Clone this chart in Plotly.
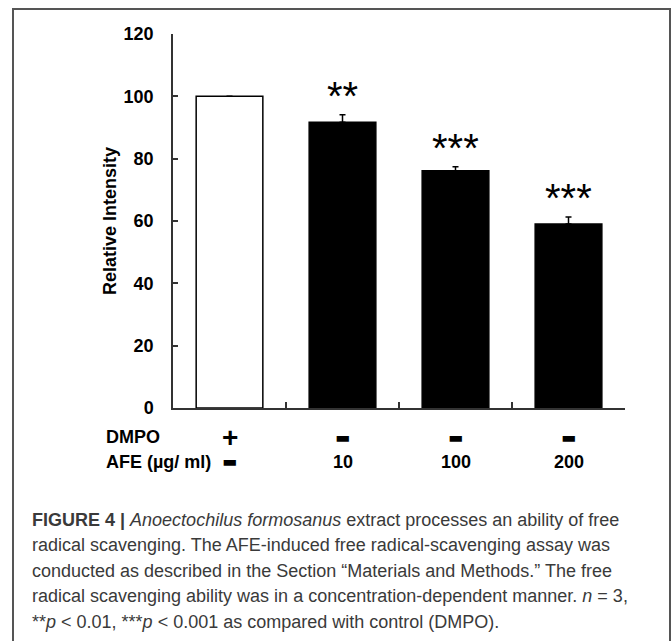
import plotly.graph_objects as go

# Free radical scavenging assay: relative ESR signal intensity
groups = ["DMPO", "AFE 10", "AFE 100", "AFE 200"]
relative_intensity = [100.0, 91.7, 76.1, 59.0]
sem = [0.0, 2.4, 1.3, 2.3]
significance = ["", "**", "***", "***"]
dmpo_row = ["+", "-", "-", "-"]
afe_row = ["-", "10", "100", "200"]
y_ticks = [0, 20, 40, 60, 80, 100, 120]

caption_lines = [
    "<b>FIGURE 4 |</b> <i>Anoectochilus formosanus</i> extract processes an ability of free",
    "radical scavenging. The AFE-induced free radical-scavenging assay was",
    "conducted as described in the Section \u201cMaterials and Methods.\u201d The free",
    "radical scavenging ability was in a concentration-dependent manner. <i>n</i> = 3,",
    "**<i>p</i> &lt; 0.01, ***<i>p</i> &lt; 0.001 as compared with control (DMPO).",
]

W, H = 672, 641
L, R, T, B = 173, 47, 34, 233
PW, PH = W - L - R, H - T - B


def px(x):
    return (x - L) / PW


def py(y):
    return (H - B - y) / PH


ARIAL = "Arial, Liberation Sans, sans-serif"
xs = list(range(len(groups)))

fig = go.Figure()
fig.add_trace(go.Bar(
    x=xs,
    y=relative_intensity,
    width=0.59,
    marker=dict(color=["white", "black", "black", "black"],
                line=dict(color="black", width=1.5)),
    error_y=dict(type="data", array=sem, arrayminus=[0] * len(sem),
                 symmetric=False, color="black", thickness=1.5, width=3),
    hoverinfo="skip",
))

# significance marks above the error bars
for x, m, e, s in zip(xs, relative_intensity, sem, significance):
    if s:
        fig.add_annotation(x=x, y=m + e, xref="x", yref="y", text=s,
                           showarrow=False, yanchor="bottom", yshift=-5,
                           font=dict(family=ARIAL, size=40, color="black"))


def sign_text(v):
    # plus/minus entries are drawn as heavy glyphs, numbers as bold text
    if v == "+":
        return "<span style='font-size:28px'><b>+</b></span>"
    if v == "-":
        return "<span style='font-family:DejaVu Sans;font-size:16px'>\u25ac</span>"
    return "<b>%s</b>" % v


# treatment table under the x axis
label_font = dict(family=ARIAL, size=18, color="black")
for row_y, row_name, row_vals in [(437, "<b>DMPO</b>", dmpo_row),
                                  (462, "<b>AFE (\u00b5g/ ml)</b>", afe_row)]:
    fig.add_annotation(x=px(104), y=py(row_y), xref="paper", yref="paper",
                       text=row_name, showarrow=False, xanchor="left",
                       yanchor="middle", font=label_font)
    for x, v in zip(xs, row_vals):
        fig.add_annotation(x=x, y=py(row_y), xref="x", yref="paper",
                           text=sign_text(v), showarrow=False,
                           xanchor="center", yanchor="middle", font=label_font)

# y axis title
fig.add_annotation(x=px(110), y=py(221), xref="paper", yref="paper",
                   text="<b>Relative Intensity</b>", textangle=-90,
                   showarrow=False, xanchor="center", yanchor="middle",
                   font=label_font)

# caption
for i, line in enumerate(caption_lines):
    fig.add_annotation(x=px(30), y=py(520 + i * 25.4), xref="paper", yref="paper",
                       text=line, showarrow=False, xanchor="left",
                       yanchor="middle", align="left",
                       font=dict(family="Liberation Sans, Arial, sans-serif",
                                 size=18, color="#3a3a3a"))

# frame around the figure panel
fig.add_shape(type="rect", xref="paper", yref="paper",
              x0=px(13), x1=px(670), y0=py(660), y1=py(9),
              line=dict(color="#555555", width=2), fillcolor="rgba(0,0,0,0)",
              layer="below")

fig.update_layout(
    width=W, height=H,
    margin=dict(l=L, r=R, t=T, b=B, pad=0),
    paper_bgcolor="white", plot_bgcolor="white",
    showlegend=False,
    xaxis=dict(range=[-0.5, 3.5], tickvals=[0.5, 1.5, 2.5, 3.5],
               ticks="inside", ticklen=6, tickwidth=1.5, tickcolor="#333333",
               showticklabels=False, showgrid=False, zeroline=False,
               showline=True, linecolor="#333333", linewidth=1.5, fixedrange=True),
    yaxis=dict(range=[0, 120], tickvals=y_ticks,
               ticktext=["<b>%d</b>" % v for v in y_ticks],
               ticks="inside", ticklen=5, tickwidth=1.5, tickcolor="#333333",
               ticklabelstandoff=14,
               tickfont=dict(family=ARIAL, size=18, color="black"),
               showgrid=False, zeroline=False,
               showline=True, linecolor="#333333", linewidth=1.5, fixedrange=True),
)

fig.write_html("out.html", config={"displayModeBar": False})
